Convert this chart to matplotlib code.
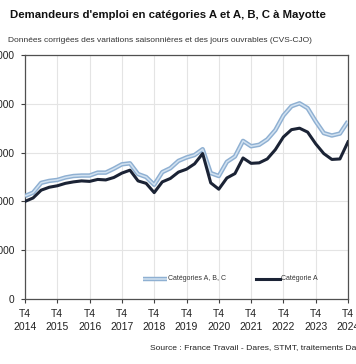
import numpy as np
import matplotlib
matplotlib.use("Agg")
import matplotlib.pyplot as plt

plt.rcParams["font.family"] = ["Liberation Sans", "DejaVu Sans"]

# Quarterly data, T4 2014 -> T4 2024 (41 quarters)
cat_abc = [10550, 10900, 11900, 12100, 12200, 12450, 12600, 12650, 12650, 12950,
           12950, 13350, 13800, 13900, 12800, 12500, 11700, 13000, 13400, 14150,
           14500, 14750, 15350, 12900, 12600, 14050, 14600, 16200, 15650, 15800,
           16350, 17300, 18800, 19750, 20050, 19550, 18200, 17000, 16750, 16950,
           18200]
cat_a = [10000, 10350, 11150, 11450, 11600, 11850, 12000, 12100, 12050, 12250,
         12200, 12450, 12900, 13200, 12100, 11850, 10900, 12000, 12350, 13000,
         13300, 13850, 14900, 11900, 11250, 12400, 12850, 14450, 13900, 13950,
         14350, 15300, 16600, 17350, 17500, 17100, 15900, 14900, 14300, 14350,
         16100]
years = list(range(2014, 2025))
y_ticks = [0, 5000, 10000, 15000, 20000, 25000]

x = np.arange(len(cat_a))

fig = plt.figure(figsize=(3.56, 3.64), dpi=100)
ax = fig.add_axes([25 / 356, 1 - 299 / 364, 323 / 356, 244 / 364])

ax.plot(x, cat_abc, color="#8fb0d2", lw=3.2, solid_capstyle="butt", zorder=3)
ax.plot(x, cat_abc, color="#d2e2f1", lw=1.1, solid_capstyle="butt", zorder=4)
ax.plot(x, cat_a, color="#1b2335", lw=2.2, zorder=5)

ax.set_xlim(0, 40)
ax.set_ylim(0, 25000)
ax.set_xticks(np.arange(0, 41, 4))
ax.set_xticklabels([f"T4\n{y}" for y in years], fontsize=7.5, linespacing=1.45)
ax.set_yticks(y_ticks)
ax.set_yticklabels([f"{v:,}".replace(",", " ") for v in y_ticks], fontsize=7.3)
ax.tick_params(axis="both", length=3, color="#404040", labelcolor="#222222")
ax.tick_params(axis="x", pad=4)
ax.tick_params(axis="y", pad=5)
ax.grid(True, color="#e4e4e4", lw=0.8)
ax.set_axisbelow(True)
for s in ax.spines.values():
    s.set_color("#505050")
    s.set_linewidth(0.9)

# legend drawn by hand with line handles
leg_y = 2100
ax.plot([14.6, 17.6], [leg_y, leg_y], color="#8fb0d2", lw=3.2, solid_capstyle="butt", clip_on=False)
ax.plot([14.6, 17.6], [leg_y, leg_y], color="#d2e2f1", lw=1.1, solid_capstyle="butt", clip_on=False)
ax.text(17.7, leg_y, "Catégories A, B, C", fontsize=5, va="center", color="#333333")
ax.plot([28.6, 31.6], [leg_y, leg_y], color="#1b2335", lw=2.2, clip_on=False)
ax.text(31.7, leg_y, "Catégorie A", fontsize=5, va="center", color="#333333")

fig.text(10 / 356, 1 - 15 / 364, "Demandeurs d'emploi en catégories A et A, B, C à Mayotte",
         fontsize=8.2, fontweight="bold", va="center", color="#111111")
fig.text(8 / 356, 1 - 41 / 364,
         "Données corrigées des variations saisonnières et des jours ouvrables (CVS-CJO)",
         fontsize=6.0, va="center", color="#333333")
fig.text(150 / 356, 1 - 348 / 364, "Source : France Travail - Dares, STMT, traitements Dares",
         fontsize=6.1, va="center", color="#222222")

fig.savefig("out.png", dpi=100)
